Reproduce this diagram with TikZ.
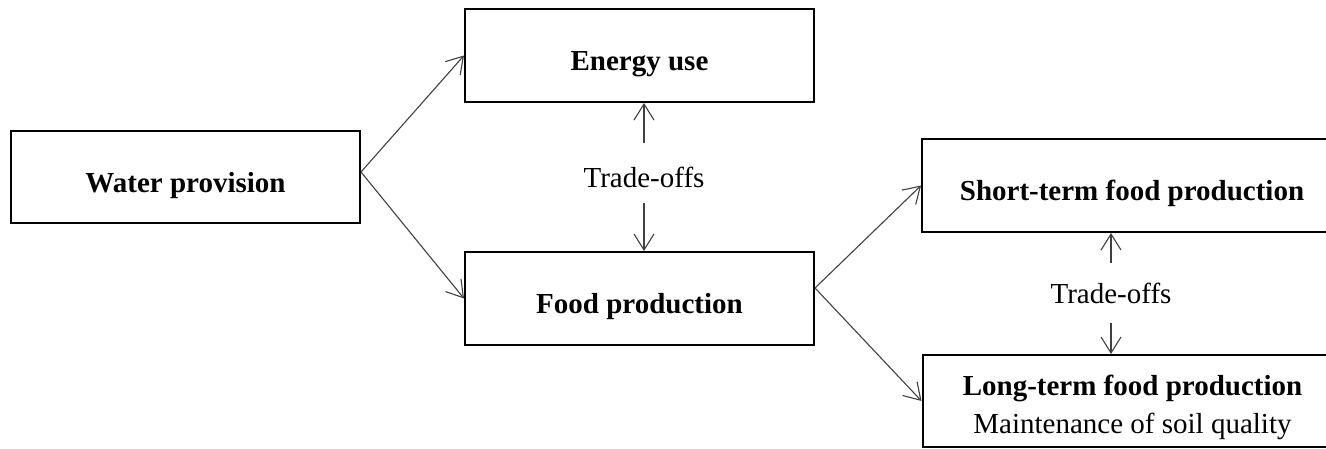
\documentclass[tikz,border=0pt]{standalone}
\usepackage{fontspec}
\setmainfont{Liberation Serif}
\usetikzlibrary{arrows.meta}
\begin{document}
\begin{tikzpicture}[x=0.5pt,y=-0.5pt,
  box/.style={draw=black,line width=1pt,rectangle,inner sep=0pt,
    font=\fontsize{14.5pt}{19pt}\selectfont\bfseries,text height=15pt,text depth=0pt},
  arr/.style={draw=black!75,line width=0.55pt,-{Straight Barb[length=8pt,width=10pt]}},
  note/.style={inner sep=0pt,anchor=base,font=\fontsize{14.5pt}{19pt}\selectfont}]
\clip (0,0) rectangle (1326,449);
% boxes
\node[box,minimum width=174.5pt,minimum height=46pt] (water) at (185.5,177) {Water provision};
\node[box,minimum width=174.5pt,minimum height=46.5pt] (energy) at (639.5,55.5) {Energy use};
\node[box,minimum width=174.5pt,minimum height=46.5pt] (food) at (639.5,298.5) {Food production};
\node[box,minimum width=210pt,minimum height=46.5pt] (short) at (1132,185.5) {Short-term food production};
\node[box,minimum width=210pt,minimum height=46pt,align=center,text height=32pt]
  (long) at (1132.5,401) {Long-term food production\\\textmd{Maintenance of soil quality}};
% trade-off labels
\node[note,text height=22pt,text depth=8pt] (t1) at (644,187) {Trade-offs};
\node[note,text height=20pt,text depth=10pt] (t2) at (1111,303) {Trade-offs};
% connectors
\draw[arr] ([yshift=2.5pt]water.east) -- (energy.west);
\draw[arr] ([yshift=2.5pt]water.east) -- (food.west);
\draw[arr] ([yshift=5.25pt]food.east) -- (short.west);
\draw[arr] ([yshift=5.25pt]food.east) -- (long.west);
\draw[arr] (t1.north) -- (t1.north |- energy.south);
\draw[arr] (t1.south) -- (t1.south |- food.north);
\draw[arr] (t2.north) -- (t2.north |- short.south);
\draw[arr] (t2.south) -- (t2.south |- long.north);
\end{tikzpicture}
\end{document}
